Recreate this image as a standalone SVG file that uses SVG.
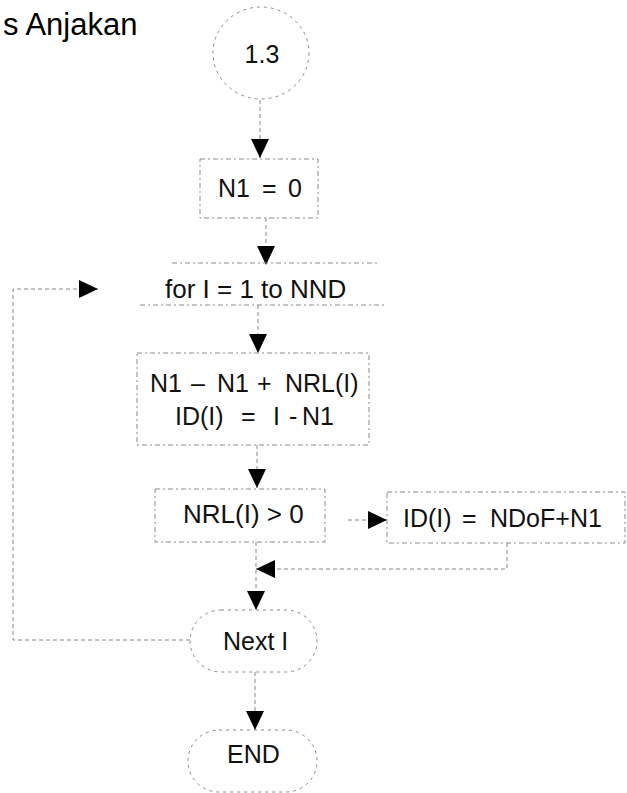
<svg xmlns="http://www.w3.org/2000/svg" width="627" height="793" viewBox="0 0 627 793">
<style>
text{font-family:"Liberation Sans",Arial,sans-serif;fill:#111;font-size:25px}
.title{font-size:31px;fill:#000}
.c{text-anchor:middle}
.b{fill:none;stroke:#8a8a8a;stroke-width:1;stroke-dasharray:5 3 2 3}
.e{fill:none;stroke:#8a8a8a;stroke-width:1;stroke-dasharray:3 4}
.l{fill:none;stroke:#888;stroke-width:1;stroke-dasharray:4 3}
</style>
<defs>
<marker id="ah" markerUnits="userSpaceOnUse" markerWidth="19" markerHeight="18" refX="19" refY="9" orient="auto">
<path d="M0,0 L19,9 L0,18 z" fill="#000"/>
</marker>
</defs>
<text class="title" x="3" y="35">s Anjakan</text>
<g id="connectors">
<path class="l" d="M260,100 V158" marker-end="url(#ah)"/>
<path class="l" d="M266,218 V265" marker-end="url(#ah)"/>
<path class="l" d="M258,305 V353" marker-end="url(#ah)"/>
<path class="l" d="M257,445 V488" marker-end="url(#ah)"/>
<path class="l" d="M348,520 H387" marker-end="url(#ah)"/>
<path class="l" d="M507,543 V569 H256" marker-end="url(#ah)"/>
<path class="l" d="M256,542 V610" marker-end="url(#ah)"/>
<path class="l" d="M255,672 V730" marker-end="url(#ah)"/>
<path class="l" d="M190,640 H13 V289 H98" marker-end="url(#ah)"/>
</g>
<g id="n-start">
<ellipse class="e" cx="261" cy="53" rx="48" ry="46"/>
<text class="c" x="262" y="63">1.3</text>
</g>
<g id="n-init">
<rect class="b" x="200" y="159" width="118" height="59"/>
<text y="197"><tspan x="218">N1</tspan><tspan x="262">=</tspan><tspan x="288">0</tspan></text>
</g>
<g id="n-for">
<path class="b" d="M172,263 H380 M140,305 H385"/>
<text x="165" y="298" style="font-size:26px">for I = 1 to NND</text>
</g>
<g id="n-calc">
<rect class="b" x="137" y="353" width="232" height="92"/>
<text y="392"><tspan x="150">N1</tspan><tspan x="191">–</tspan><tspan x="217">N1</tspan><tspan x="257">+</tspan><tspan x="285">NRL(I)</tspan></text>
<text y="425"><tspan x="175">ID(I)</tspan><tspan x="241">=</tspan><tspan x="273">I</tspan><tspan x="289">-</tspan><tspan x="302">N1</tspan></text>
</g>
<g id="n-cond">
<rect class="b" x="155" y="489" width="170" height="53"/>
<text x="183" y="523" style="font-size:26px">NRL(I) &gt; 0</text>
</g>
<g id="n-assign">
<rect class="b" x="387" y="492" width="238" height="51"/>
<text y="527"><tspan x="403">ID(I)</tspan><tspan x="462">=</tspan><tspan x="490">NDoF+N1</tspan></text>
</g>
<g id="n-next">
<rect class="e" x="190" y="610" width="127" height="62" rx="31" ry="31"/>
<text x="223" y="650">Next I</text>
</g>
<g id="n-end">
<rect class="e" x="188" y="730" width="129" height="62" rx="31" ry="31"/>
<text x="227" y="763">END</text>
</g>
</svg>
